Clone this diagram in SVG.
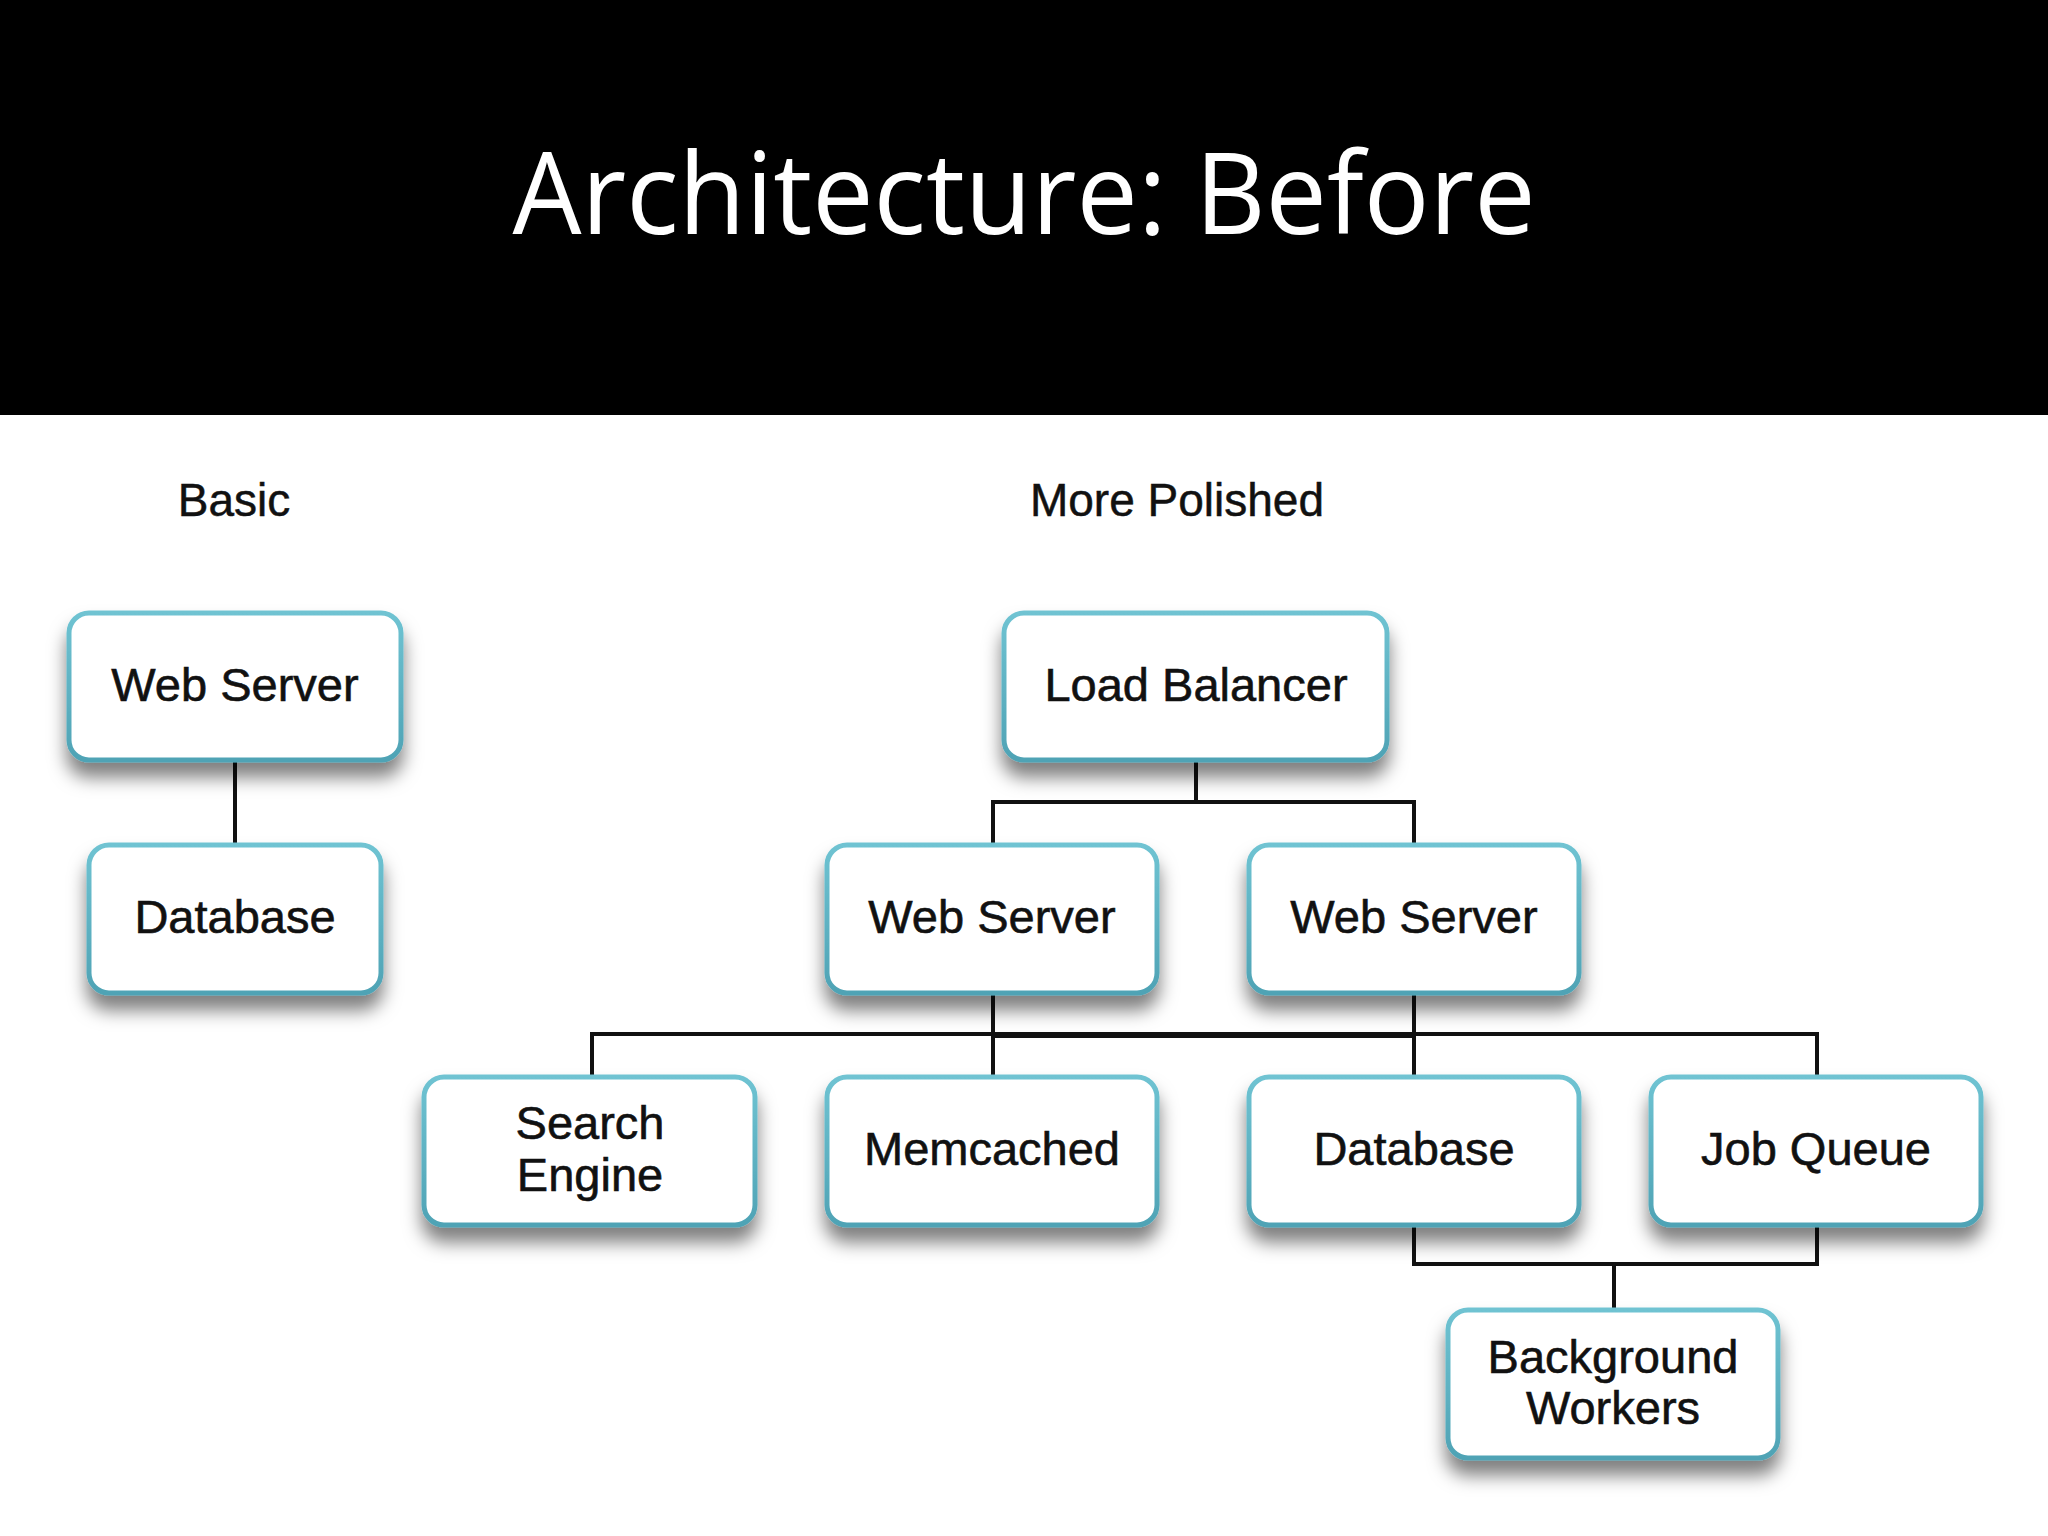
<svg xmlns="http://www.w3.org/2000/svg" width="2048" height="1536" viewBox="0 0 2048 1536">
  <defs>
    <filter id="sh" x="-20%" y="-20%" width="140%" height="170%">
      <feDropShadow dx="0" dy="15" stdDeviation="9" flood-color="#000" flood-opacity="0.5"/>
    </filter>
    <linearGradient id="edge" x1="0" y1="0" x2="0" y2="1">
      <stop offset="0" stop-color="#6fc3d2"/>
      <stop offset="1" stop-color="#4fa3b5"/>
    </linearGradient>
  </defs>
  <style>
    .box { fill: #ffffff; stroke: url(#edge); stroke-width: 5; filter: url(#sh); }
    .lbl { font-family: "Liberation Sans", Arial, sans-serif; font-size: 47px; fill: #111; text-anchor: middle; stroke: #111; stroke-width: 0.6; }
    .hdr { font-family: "Liberation Sans", Arial, sans-serif; font-size: 46px; fill: #111; text-anchor: middle; stroke: #111; stroke-width: 0.5; }
    .con { stroke: #111; stroke-width: 4; fill: none; }
  </style>
  <rect x="0" y="0" width="2048" height="1536" fill="#ffffff"/>
  <rect x="0" y="0" width="2048" height="415" fill="#000000"/>
  <text x="1024" y="234" font-family="Open Sans, Calibri, sans-serif" font-size="113" fill="#ffffff" text-anchor="middle" textLength="1023" lengthAdjust="spacingAndGlyphs">Architecture: Before</text>

  <text class="hdr" x="234" y="516">Basic</text>
  <text class="hdr" x="1177" y="516">More Polished</text>

  <g id="connectors">
    <line class="con" x1="235" y1="760" x2="235" y2="845"/>
    <polyline class="con" points="1196,760 1196,802"/>
    <polyline class="con" points="993,845 993,802 1414,802 1414,845"/>
    <line class="con" x1="993" y1="993" x2="993" y2="1077"/>
    <line class="con" x1="1414" y1="993" x2="1414" y2="1077"/>
    <polyline class="con" points="592,1077 592,1034 1817,1034 1817,1077"/>
    <line class="con" x1="993" y1="1036" x2="1414" y2="1036"/>
    <polyline class="con" points="1414,1225 1414,1264 1817,1264 1817,1225"/>
    <line class="con" x1="1614" y1="1264" x2="1614" y2="1310"/>
  </g>

  <g id="basic-web-server">
    <rect class="box" x="69" y="613" width="332" height="147" rx="20"/>
    <text class="lbl" x="235" y="701">Web Server</text>
  </g>
  <g id="basic-database">
    <rect class="box" x="89" y="845" width="292" height="148" rx="20"/>
    <text class="lbl" x="235" y="933">Database</text>
  </g>
  <g id="load-balancer">
    <rect class="box" x="1004" y="613" width="383" height="147" rx="20"/>
    <text class="lbl" x="1196" y="701">Load Balancer</text>
  </g>
  <g id="web-server-1">
    <rect class="box" x="827" y="845" width="330" height="148" rx="20"/>
    <text class="lbl" x="992" y="933">Web Server</text>
  </g>
  <g id="web-server-2">
    <rect class="box" x="1249" y="845" width="330" height="148" rx="20"/>
    <text class="lbl" x="1414" y="933">Web Server</text>
  </g>
  <g id="search-engine">
    <rect class="box" x="424" y="1077" width="331" height="148" rx="20"/>
    <text class="lbl" x="590" y="1139">Search</text>
    <text class="lbl" x="590" y="1191">Engine</text>
  </g>
  <g id="memcached">
    <rect class="box" x="827" y="1077" width="330" height="148" rx="20"/>
    <text class="lbl" x="992" y="1165">Memcached</text>
  </g>
  <g id="database">
    <rect class="box" x="1249" y="1077" width="330" height="148" rx="20"/>
    <text class="lbl" x="1414" y="1165">Database</text>
  </g>
  <g id="job-queue">
    <rect class="box" x="1651" y="1077" width="330" height="148" rx="20"/>
    <text class="lbl" x="1816" y="1165">Job Queue</text>
  </g>
  <g id="background-workers">
    <rect class="box" x="1448" y="1310" width="330" height="148" rx="20"/>
    <text class="lbl" x="1613" y="1373">Background</text>
    <text class="lbl" x="1613" y="1424">Workers</text>
  </g>
</svg>
